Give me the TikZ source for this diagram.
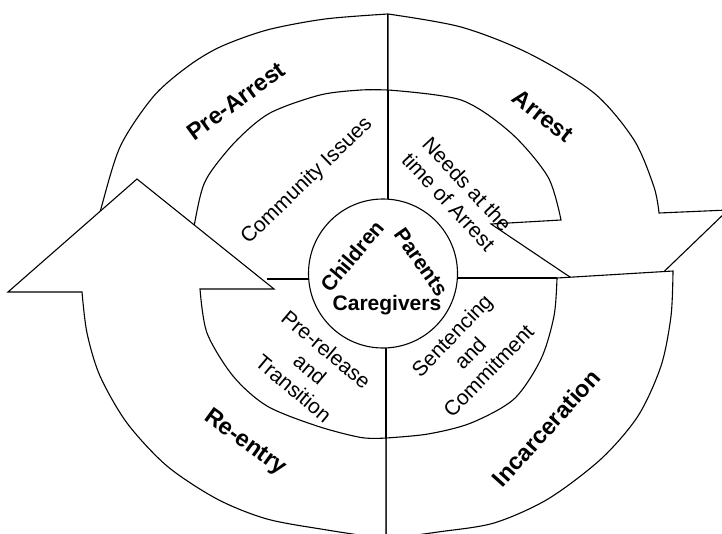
\documentclass[tikz,border=0pt]{standalone}
\usepackage{fontspec}
\setmainfont{Liberation Sans}
\begin{document}
\begin{tikzpicture}[x=1pt,y=-1pt]
\tikzset{
  seg/.style={draw=black, fill=white, line width=1.1pt, line join=miter},
  edge/.style={draw=black, line width=1.1pt},
  big/.style={font=\fontsize{23.5}{27}\selectfont\bfseries, inner sep=0pt},
  mid/.style={font=\fontsize{21}{25.5}\selectfont, align=center, inner sep=0pt},
  core/.style={font=\fontsize{21}{25}\selectfont\bfseries, inner sep=0pt},
}
\useasboundingbox (0,0) rectangle (722,533);
\clip (0,0) rectangle (722,533);

% Pre-Arrest ring (partly hidden by the Re-entry arrow head)
\draw[edge] plot[smooth] coordinates {(92,240) (100,212) (120,147) (153,97) (187,67) (220,47) (267,30) (325,19) (388,14)};
\draw[edge] plot[smooth] coordinates {(188,259) (200,197) (210,173) (237,140) (270,113) (320,95) (361,90) (388,90)};
\draw[edge] (388,14) -- (388,215);
\draw[edge] (267,279) -- (320,279);

% Arrest arrow
\draw[seg] plot[smooth] coordinates {(388,14) (461,27) (528,53) (594,93) (634,140) (654,187) (659,213)}
  -- (728,210) -- (622,312) -- (491,224) -- (561,220)
  -- plot[smooth] coordinates {(561,220) (548,177) (511,133) (461,100) (388,90)} -- cycle;

% Incarceration block
\draw[seg] (557,278) -- (673,271)
  -- plot[smooth] coordinates {(673,271) (671,316) (661,366) (638,416) (601,459) (548,499) (494,523) (438,532) (386,539)}
  -- (386,438)
  -- plot[smooth] coordinates {(386,438) (428,434) (471,423) (514,399) (541,359) (554,316) (557,278)} -- cycle;
\draw[edge] (450,278) -- (557,278);
\draw[edge] (386,335) -- (386,438);

% Re-entry arrow
\draw[seg] (386,539) -- (386,438)
  -- plot[smooth] coordinates {(386,438) (361,437.5) (317,426) (267,406) (233,376) (207,333) (200,289)}
  -- (274,289) -- (137,179) -- (8,292) -- (82,292)
  -- plot[smooth] coordinates {(82,292) (87,333) (100,376) (127,423) (167,466) (217,499) (267,519) (327,530) (386,539)} -- cycle;

% hub
\node (hub) [circle, draw, fill=white, line width=1.1pt, minimum size=149pt, inner sep=0pt] at (383,273.5) {};

% labels
\node (pa)  [big, rotate=36]  at (236,101) {Pre-Arrest};
\node (ar)  [big, rotate=-38] at (543,116) {Arrest};
\node (inc) [big, rotate=48]  at (546,428) {Incarceration};
\node (re)  [big, rotate=-36] at (245,443) {Re-entry};

\node (ci) [mid, rotate=44]  at (307,181) {Community Issues};
\node (na) [mid, rotate=-47] at (458,193) {Needs at the\\time of Arrest};
\node (sc) [mid, rotate=46]  at (470,353) {Sentencing\\and\\Commitment};
\node (pr) [mid, rotate=-40] at (310,369) {Pre-release\\and\\Transition};

\node (ch) [core, rotate=50]  at (352,256) {Children};
\node (pt) [core, rotate=-55] at (421,262) {Parents};
\node (cg) [core]             at (387,305) {Caregivers};
\end{tikzpicture}
\end{document}
